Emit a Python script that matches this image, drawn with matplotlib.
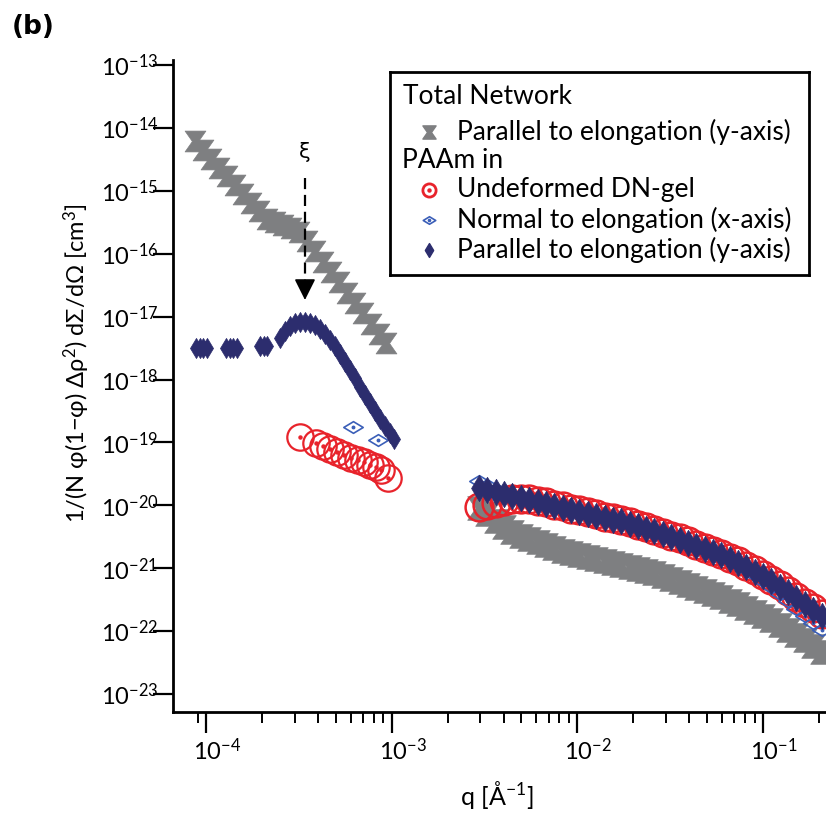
import matplotlib
matplotlib.use("Agg")
import matplotlib.pyplot as plt
from matplotlib.path import Path
from matplotlib.ticker import NullLocator
from matplotlib.transforms import ScaledTranslation

plt.rcParams['font.family'] = ['Lato', 'DejaVu Sans']
plt.rcParams['mathtext.fontset'] = 'custom'
plt.rcParams['mathtext.rm'] = 'Lato'
plt.rcParams['mathtext.it'] = 'Lato:italic'
plt.rcParams['mathtext.bf'] = 'Lato:bold'
plt.rcParams['axes.unicode_minus'] = False

# ---- data ----
# low-q (USANS) part
tot_q_lo = [8.73e-5, 9.64e-5, 1.064e-4, 1.175e-4, 1.297e-4, 1.432e-4, 1.581e-4, 1.746e-4,
            1.928e-4, 2.13e-4, 2.35e-4, 2.60e-4, 2.87e-4, 3.17e-4, 3.50e-4, 3.86e-4,
            4.27e-4, 4.71e-4, 5.20e-4, 5.74e-4, 6.34e-4, 7.00e-4, 7.74e-4, 8.55e-4, 9.31e-4]
tot_par_lo = [6.19e-15, 4.45e-15, 3.21e-15, 2.30e-15, 1.72e-15, 1.24e-15, 8.9e-16, 6.4e-16,
              4.78e-16, 3.56e-16, 3.19e-16, 2.86e-16, 2.56e-16, 2.21e-16, 1.59e-16, 1.10e-16,
              7.4e-17, 5.1e-17, 3.55e-17, 2.37e-17, 1.64e-17, 1.14e-17, 7.6e-18, 5.3e-18, 3.8e-18]

paam_q_lo = [8.83e-5, 9.23e-5, 9.64e-5, 1.006e-4, 1.282e-4, 1.339e-4, 1.397e-4, 1.459e-4,
             1.953e-4, 2.04e-4, 2.13e-4, 2.50e-4, 2.66e-4, 2.83e-4, 3.01e-4, 3.21e-4,
             3.41e-4, 3.63e-4, 3.86e-4, 4.11e-4, 4.37e-4, 4.65e-4, 4.95e-4, 5.27e-4,
             5.60e-4, 5.96e-4, 6.34e-4, 6.75e-4, 7.18e-4, 7.64e-4, 8.13e-4, 8.65e-4,
             9.20e-4, 9.79e-4, 1.029e-3]
paam_par_lo = [3.17e-18, 3.17e-18, 3.17e-18, 3.17e-18, 3.17e-18, 3.17e-18, 3.17e-18, 3.17e-18,
               3.41e-18, 3.41e-18, 3.41e-18, 4.57e-18, 5.90e-18, 7.09e-18, 7.91e-18, 8.20e-18,
               8.20e-18, 7.91e-18, 7.35e-18, 6.35e-18, 5.29e-18, 4.25e-18, 3.41e-18, 2.55e-18,
               1.90e-18, 1.42e-18, 1.06e-18, 7.6e-19, 5.67e-19, 4.23e-19, 3.16e-19, 2.36e-19,
               1.82e-19, 1.41e-19, 1.13e-19]

undef_q_lo = [3.21e-4, 3.91e-4, 4.27e-4, 4.65e-4, 5.07e-4, 5.53e-4, 6.03e-4, 6.58e-4,
              7.09e-4, 7.64e-4, 8.23e-4, 8.76e-4, 9.55e-4]
undef_lo = [1.22e-19, 9.8e-20, 8.77e-20, 7.85e-20, 7.03e-20, 6.31e-20, 5.65e-20, 5.25e-20,
            4.88e-20, 4.38e-20, 4.07e-20, 3.64e-20, 2.72e-20]

norm_q_lo = [6.19e-4, 8.44e-4]
norm_lo = [1.76e-19, 1.09e-19]

# high-q (SANS) part, common q grid
q_hi = [0.00295, 0.00327, 0.00363, 0.00403, 0.00447, 0.00495, 0.00550, 0.00610,
        0.00676, 0.00750, 0.00832, 0.00923, 0.0102, 0.0114, 0.0126, 0.0140,
        0.0155, 0.0172, 0.0191, 0.0211, 0.0234, 0.0260, 0.0288, 0.0320,
        0.0355, 0.0394, 0.0437, 0.0484, 0.0537, 0.0596, 0.0661, 0.0733,
        0.0813, 0.0902, 0.100, 0.111, 0.123, 0.136, 0.151, 0.168, 0.186, 0.207]
tot_par_hi = [9.1e-21, 7.3e-21, 5.6e-21, 4.52e-21, 3.77e-21, 3.25e-21, 2.91e-21, 2.61e-21,
              2.34e-21, 2.09e-21, 1.88e-21, 1.75e-21, 1.62e-21, 1.51e-21, 1.40e-21, 1.30e-21,
              1.21e-21, 1.12e-21, 1.04e-21, 9.7e-22, 9.0e-22, 8.4e-22, 7.5e-22, 6.7e-22,
              6.0e-22, 5.4e-22, 4.84e-22, 4.34e-22, 3.89e-22, 3.48e-22, 3.01e-22, 2.70e-22,
              2.33e-22, 2.01e-22, 1.74e-22, 1.50e-22, 1.25e-22, 1.04e-22, 8.7e-23, 7.2e-23,
              5.8e-23, 4.66e-23]
undef_hi = [9.4e-21, 1.01e-20, 1.09e-20, 1.17e-20, 1.24e-20, 1.28e-20, 1.26e-20, 1.19e-20,
            1.11e-20, 1.03e-20, 9.6e-21, 8.9e-21, 8.3e-21, 7.7e-21, 7.15e-21, 6.64e-21,
            6.28e-21, 5.94e-21, 5.42e-21, 4.95e-21, 4.52e-21, 4.12e-21, 3.69e-21, 3.31e-21,
            2.97e-21, 2.66e-21, 2.38e-21, 2.13e-21, 1.91e-21, 1.71e-21, 1.48e-21, 1.28e-21,
            1.10e-21, 9.4e-22, 7.9e-22, 6.6e-22, 5.4e-22, 4.4e-22, 3.55e-22, 2.85e-22,
            2.29e-22, 1.87e-22]
norm_hi = [2.43e-20, 2.10e-20, 1.82e-20, 1.63e-20, 1.46e-20, 1.37e-20, 1.27e-20, 1.19e-20,
           1.10e-20, 1.03e-20, 9.5e-21, 8.8e-21, 8.2e-21, 7.6e-21, 7.1e-21, 6.6e-21,
           6.2e-21, 5.9e-21, 5.4e-21, 4.9e-21, 4.5e-21, 4.1e-21, 3.7e-21, 3.3e-21,
           2.95e-21, 2.63e-21, 2.36e-21, 2.12e-21, 1.90e-21, 1.69e-21, 1.46e-21, 1.24e-21,
           9.7e-22, 7.8e-22, 6.3e-22, 5.0e-22, 3.9e-22, 3.0e-22, 2.25e-22, 1.74e-22,
           1.35e-22, 1.05e-22]
paam_par_hi = [1.88e-20, 1.75e-20, 1.62e-20, 1.51e-20, 1.41e-20, 1.31e-20, 1.21e-20, 1.13e-20,
               1.05e-20, 9.8e-21, 9.06e-21, 8.4e-21, 7.8e-21, 7.25e-21, 6.76e-21, 6.3e-21,
               5.94e-21, 5.62e-21, 5.12e-21, 4.68e-21, 4.27e-21, 3.89e-21, 3.5e-21, 3.13e-21,
               2.82e-21, 2.51e-21, 2.25e-21, 2.02e-21, 1.81e-21, 1.62e-21, 1.40e-21, 1.21e-21,
               1.05e-21, 8.7e-22, 7.5e-22, 6.3e-22, 5.0e-22, 4.2e-22, 3.36e-22, 2.7e-22,
               2.16e-22, 1.74e-22]

xi_q = 3.41e-4   # position of the correlation-length arrow

x_major = [1e-4, 1e-3, 1e-2, 1e-1]
x_minor = [9e-5,
           2e-4, 3e-4, 4e-4, 5e-4, 6e-4, 7e-4, 8e-4, 9e-4,
           2e-3, 3e-3, 4e-3, 5e-3, 6e-3, 7e-3, 8e-3, 9e-3,
           2e-2, 3e-2, 4e-2, 5e-2, 6e-2, 7e-2, 8e-2, 9e-2, 2e-1]
y_major = [1e-23, 1e-22, 1e-21, 1e-20, 1e-19, 1e-18, 1e-17, 1e-16, 1e-15, 1e-14, 1e-13]

# ---- styles ----
GRAY = '#7e7f81'
NAVY = '#2c2d6e'
RED = '#e8232b'
BLUE = '#3b5fb8'

M = Path.MOVETO
L = Path.LINETO
C = Path.CLOSEPOLY
hourglass = Path([(-1, 1), (1, 1), (0.3, 0), (1, -1), (-1, -1), (-0.3, 0), (0, 0)],
                 [M, L, L, L, L, L, C])
tall_dia = Path([(0, 1), (0.6, 0), (0, -1), (-0.6, 0), (0, 0)], [M, L, L, L, C])
wide_dia = Path([(-1, 0), (0, 0.6), (1, 0), (0, -0.6), (0, 0)], [M, L, L, L, C])

fig = plt.figure(figsize=(8.26, 8.14), dpi=100)
W, H = 826.0, 814.0
ax = fig.add_axes([173 / W, 1 - 712 / H, (826 - 173) / W, (712 - 60) / H])

# total network
ax.plot(tot_q_lo, tot_par_lo, ls='none', marker=hourglass, ms=15, color=GRAY, mew=0.5, zorder=2)
ax.plot(q_hi, tot_par_hi, ls='none', marker=hourglass, ms=17, color=GRAY, mew=0.5, zorder=2)

# undeformed
ax.plot(undef_q_lo, undef_lo, ls='none', marker='o', ms=19, mfc='none', mec=RED, mew=1.6, zorder=3)
ax.plot(undef_q_lo, undef_lo, ls='none', marker='o', ms=2.2, color=RED, zorder=3)
ax.plot(q_hi, undef_hi, ls='none', marker='o', ms=20, mfc='none', mec=RED, mew=1.8, zorder=3)

# normal to elongation
for qq, yy in [(norm_q_lo, norm_lo), (q_hi, norm_hi)]:
    ax.plot(qq, yy, ls='none', marker=wide_dia, ms=14, mfc='none', mec=BLUE, mew=1.2, zorder=4)
    ax.plot(qq, yy, ls='none', marker='o', ms=1.8, color=BLUE, zorder=4)

# parallel to elongation
ax.plot(paam_q_lo, paam_par_lo, ls='none', marker=tall_dia, ms=14.5, color=NAVY, mew=0.5, zorder=5)
ax.plot(q_hi, paam_par_hi, ls='none', marker=tall_dia, ms=19, color=NAVY, mew=0.5, zorder=5)

# xi arrow
ax.plot([xi_q, xi_q], [1.6e-15, 4.0e-17], ls='--', dashes=(5, 2.6), color='black', lw=1.6, zorder=6)
ax.annotate('', xy=(xi_q, 1.84e-17), xytext=(xi_q, 3.8e-17),
            arrowprops=dict(arrowstyle='-|>,head_length=1.0,head_width=0.5', mutation_scale=13,
                            color='black', lw=1.2, shrinkA=0, shrinkB=0), zorder=6)
ax.text(xi_q, 4.1e-15, 'ξ', ha='center', va='center', fontsize=15,
        family=['DejaVu Sans'])

ax.set_xscale('log')
ax.set_yscale('log')
ax.set_xlim(10 ** -4.178, 10 ** -0.661)
ax.set_ylim(10 ** -23.286, 10 ** -12.92)
ax.set_yticks(y_major)
ax.yaxis.set_minor_locator(NullLocator())
ax.set_xticks(x_major)
ax.set_xticks(x_minor, minor=True)
ax.xaxis.set_minor_formatter(plt.NullFormatter())

for s in ['top', 'right']:
    ax.spines[s].set_visible(False)
for s in ['left', 'bottom']:
    ax.spines[s].set_linewidth(2.0)

ax.tick_params(axis='y', which='major', length=14.4, width=1.6, direction='out',
               labelsize=17, pad=-4)
ax.tick_params(axis='x', which='major', length=15, width=1.6, direction='out',
               labelsize=17, pad=3)
ax.tick_params(axis='x', which='minor', length=8, width=1.4, direction='out')

# keep the "10" of each q label centred on its tick, exponent hanging to the right
shift = ScaledTranslation(-13 / 100, 0, fig.dpi_scale_trans)
for lab in ax.get_xticklabels():
    lab.set_horizontalalignment('left')
    lab.set_transform(lab.get_transform() + shift)

fig.text(77 / W, 1 - 363 / H, '1/(N φ(1−φ) Δρ$^{2}$) dΣ/dΩ [cm$^{3}$]',
         rotation=90, ha='center', va='center', fontsize=17)
fig.text(497 / W, 1 - 795 / H, 'q [Å$^{-1}$]', ha='center', va='center', fontsize=18)
fig.text(12 / W, 1 - 27 / H, '(b)', ha='left', va='center', fontsize=19,
         fontweight='bold', family=['DejaVu Sans'])

# ---- legend box ----
leg = fig.add_axes([390 / W, 1 - 275 / H, 419 / W, 203 / H])
leg.set_xlim(0, 1)
leg.set_ylim(0, 1)
leg.set_xticks([])
leg.set_yticks([])
for s in leg.spines.values():
    s.set_linewidth(2.0)
fs = 19
leg.text(0.031, 0.877, 'Total Network', va='center', fontsize=fs)
leg.plot([0.093], [0.704], marker=hourglass, ms=9.5, color=GRAY, ls='none')
leg.text(0.160, 0.704, 'Parallel to elongation (y-axis)', va='center', fontsize=fs)
leg.text(0.029, 0.562, 'PAAm in', va='center', fontsize=fs)
leg.plot([0.093], [0.419], marker='o', ms=9.5, mfc='none', mec=RED, mew=2.0, ls='none')
leg.plot([0.093], [0.419], marker='o', ms=2.2, color=RED, ls='none')
leg.text(0.160, 0.419, 'Undeformed DN-gel', va='center', fontsize=fs)
leg.plot([0.093], [0.271], marker=wide_dia, ms=9, mfc='none', mec=BLUE, mew=1.2, ls='none')
leg.plot([0.093], [0.271], marker='o', ms=1.6, color=BLUE, ls='none')
leg.text(0.160, 0.271, 'Normal to elongation (x-axis)', va='center', fontsize=fs)
leg.plot([0.093], [0.123], marker=tall_dia, ms=10, color=NAVY, ls='none')
leg.text(0.160, 0.123, 'Parallel to elongation (y-axis)', va='center', fontsize=fs)

fig.savefig('out.png', dpi=100)
